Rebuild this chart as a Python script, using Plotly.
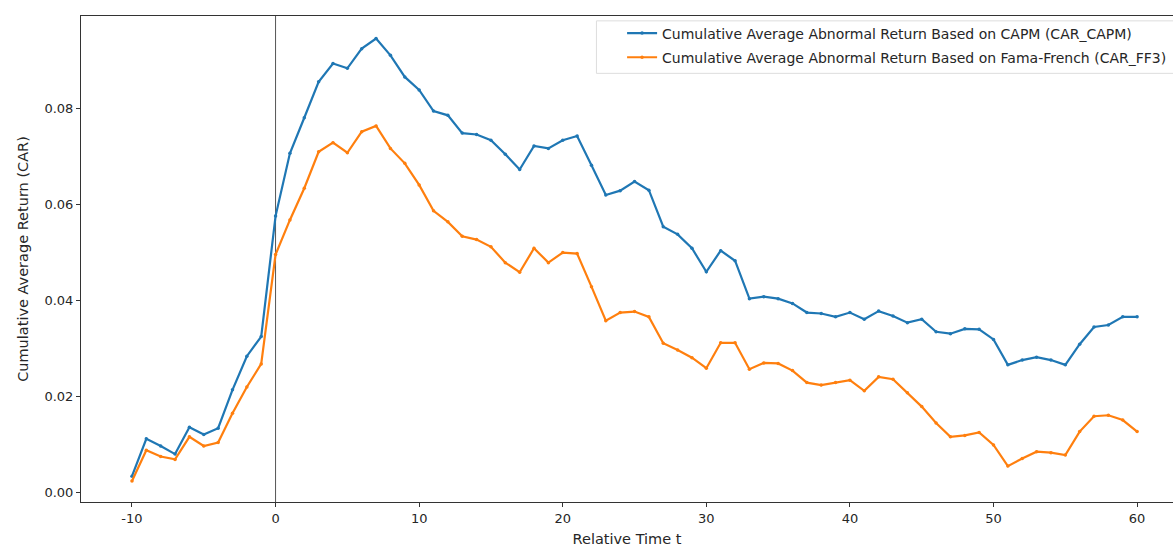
import plotly.graph_objects as go

# ---- data ----
relative_time = list(range(-10, 61))

car_capm = [
    0.0033, 0.0111, 0.0096, 0.0079, 0.0135, 0.0120, 0.0133, 0.0213, 0.0283, 0.0324,  # -10..-1
    0.0575,  # 0
    0.0706, 0.0780, 0.0855, 0.0893, 0.0883, 0.0924, 0.0945, 0.0910, 0.0865, 0.0838,  # 1..10
    0.0794, 0.0785, 0.0748, 0.0745, 0.0733, 0.0704, 0.0672, 0.0721, 0.0716, 0.0733,  # 11..20
    0.0742, 0.0681, 0.0619, 0.0628, 0.0647, 0.0629, 0.0553, 0.0537, 0.0508, 0.0459,  # 21..30
    0.0503, 0.0482, 0.0403, 0.0407, 0.0403, 0.0393, 0.0374, 0.0372, 0.0365, 0.0374,  # 31..40
    0.0360, 0.0377, 0.0367, 0.0353, 0.0360, 0.0334, 0.0330, 0.0340, 0.0339, 0.0318,  # 41..50
    0.0265, 0.0275, 0.0281, 0.0275, 0.0265, 0.0308, 0.0344, 0.0348, 0.0365, 0.0365,  # 51..60
]

car_ff3 = [
    0.0023, 0.0087, 0.0074, 0.0068, 0.0115, 0.0096, 0.0103, 0.0164, 0.0219, 0.0267,  # -10..-1
    0.0495,  # 0
    0.0567, 0.0633, 0.0709, 0.0728, 0.0707, 0.0751, 0.0763, 0.0716, 0.0685, 0.0640,  # 1..10
    0.0586, 0.0563, 0.0533, 0.0526, 0.0511, 0.0478, 0.0458, 0.0508, 0.0478, 0.0499,  # 11..20
    0.0497, 0.0428, 0.0357, 0.0374, 0.0376, 0.0365, 0.0310, 0.0296, 0.0280, 0.0258,  # 21..30
    0.0311, 0.0311, 0.0256, 0.0269, 0.0268, 0.0253, 0.0228, 0.0223, 0.0228, 0.0233,  # 31..40
    0.0211, 0.0240, 0.0235, 0.0207, 0.0178, 0.0144, 0.0115, 0.0118, 0.0124, 0.0098,  # 41..50
    0.0054, 0.0070, 0.0084, 0.0082, 0.0077, 0.0126, 0.0158, 0.0160, 0.0150, 0.0126,  # 51..60
]

event_day = 0
x_ticks = [-10, 0, 10, 20, 30, 40, 50, 60]
y_ticks = [0.00, 0.02, 0.04, 0.06, 0.08]
name_capm = "Cumulative Average Abnormal Return Based on CAPM (CAR_CAPM)"
name_ff3 = "Cumulative Average Abnormal Return Based on Fama-French (CAR_FF3)"

FONT = "DejaVu Sans"
BLUE = "#1f77b4"
ORANGE = "#ff7f0e"
TEXT = "#262626"

fig = go.Figure()
fig.add_trace(go.Scatter(
    x=relative_time, y=car_capm, mode="lines+markers", name=name_capm, legendgroup="capm",
    line=dict(color=BLUE, width=2.2), marker=dict(color=BLUE, size=3.5),
))
fig.add_trace(go.Scatter(
    x=relative_time, y=car_ff3, mode="lines+markers", name=name_ff3, legendgroup="ff3",
    line=dict(color=ORANGE, width=2.2), marker=dict(color=ORANGE, size=3.5),
))

# event-day reference line
fig.add_shape(type="line", xref="x", yref="paper", x0=event_day, x1=event_day,
              y0=0, y1=1, line=dict(color="#555555", width=1), layer="below")

# legend frame (matplotlib style)
fig.add_shape(type="rect", xref="paper", yref="paper",
              x0=0.472, x1=1.02, y0=0.882, y1=0.990,
              line=dict(color="#dddddd", width=1), fillcolor="rgba(255,255,255,0.85)",
              layer="above")

fig.update_layout(
    width=1173, height=554,
    margin=dict(l=81, r=0, t=16, b=52),
    paper_bgcolor="white", plot_bgcolor="white",
    font=dict(family=FONT, size=13, color=TEXT),
    showlegend=True,
    legend=dict(x=0.4955, y=0.997, xanchor="left", yanchor="top",
                bgcolor="rgba(0,0,0,0)", borderwidth=0,
                font=dict(family=FONT, size=14, color=TEXT),
                tracegroupgap=3, itemwidth=30),
    xaxis=dict(
        range=[-13.55, 62.5], tickvals=x_ticks, ticktext=[str(v) for v in x_ticks],
        showgrid=False, zeroline=False, showline=True, linecolor="#333333", linewidth=1,
        mirror=True, ticks="outside", ticklen=4, tickcolor="#333333",
        tickfont=dict(family=FONT, size=13, color=TEXT),
        title=dict(text="Relative Time t", font=dict(family=FONT, size=14.5, color=TEXT), standoff=9),
    ),
    yaxis=dict(
        range=[-0.00208, 0.0992], tickvals=y_ticks, ticktext=[f"{v:.2f}" for v in y_ticks],
        showgrid=False, zeroline=False, showline=True, linecolor="#333333", linewidth=1,
        mirror=False, ticks="outside", ticklen=4, tickcolor="#333333",
        tickfont=dict(family=FONT, size=13, color=TEXT),
        title=dict(text="Cumulative Average Return (CAR)", font=dict(family=FONT, size=14.5, color=TEXT), standoff=12),
    ),
)

fig.write_html("out.html")
